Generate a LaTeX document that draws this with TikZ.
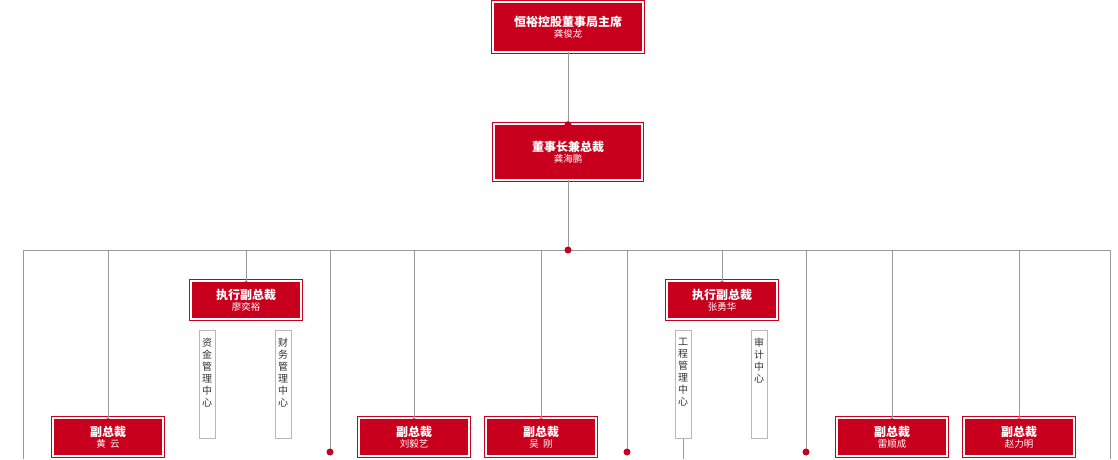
\documentclass[tikz,border=0pt]{standalone}
\usepackage{fontspec}
\setmainfont{Noto Sans CJK SC}
\usetikzlibrary{positioning}
\definecolor{hred}{HTML}{C8001E}
\definecolor{hline}{HTML}{9A9A9A}

\begin{document}
\begin{tikzpicture}[x=1pt,y=-1pt,
        redbox/.style = {rectangle, draw=hred, double=white, double distance=2pt, line width=0.6pt, fill=hred, text=white, align=center, inner sep=1pt},
        vpbox/.style = {redbox, minimum width=110pt, minimum height=38pt},
        deptbox/.style = {rectangle, draw=hline!70, fill=white, line width=0.6pt, anchor=north, inner sep=2pt, font=\fontsize{10}{12}\selectfont, text=black!80},
        line/.style = {draw=hline, line width=0.9pt},
        dot/.style = {circle, fill=hred, inner sep=0pt, minimum size=7pt}
    ]
        \useasboundingbox (0,0) rectangle (1118,459);
        \newcommand{\ttl}[2]{{\fontsize{12}{14}\selectfont\bfseries #1}\\[-1pt]{\fontsize{9.5}{11}\selectfont #2}}
        \newcommand{\dpt}[1]{\parbox[t][104pt][t]{1.2em}{\centering\vspace{6pt}#1}}

        % Top nodes
        \node [redbox, minimum width=150pt, minimum height=50pt] (chair) at (568,27) {\ttl{恒裕控股董事局主席}{龚俊龙}};
        \node [redbox, minimum width=148pt, minimum height=56pt] (ceo) at (568,152) {\ttl{董事长兼总裁}{龚海鹏}};

        % Executive vice presidents
        \node [vpbox] (evpa) at (246,300) {\ttl{执行副总裁}{廖奕裕}};
        \node [vpbox] (evpb) at (722,300) {\ttl{执行副总裁}{张勇华}};

        % Vice presidents
        \node [vpbox] (vpa) at (108,437) {\ttl{副总裁}{黄\ \ 云}};
        \node [vpbox] (vpb) at (414,437) {\ttl{副总裁}{刘毅艺}};
        \node [vpbox] (vpc) at (541,437) {\ttl{副总裁}{吴\ \ 刚}};
        \node [vpbox] (vpd) at (892,437) {\ttl{副总裁}{雷顺成}};
        \node [vpbox] (vpe) at (1019,437) {\ttl{副总裁}{赵力明}};

        % Centres
        \node [deptbox] (fund) at (207,330) {\dpt{资\\金\\管\\理\\中\\心}};
        \node [deptbox] (fin) at (283,330) {\dpt{财\\务\\管\\理\\中\\心}};
        \node [deptbox] (eng) at (683,330) {\dpt{工\\程\\管\\理\\中\\心}};
        \node [deptbox] (audit) at (759,330) {\dpt{审\\计\\中\\心}};

        % Bus
        \coordinate (hub) at (568,250);
        \coordinate (busl) at (23,250);
        \coordinate (busr) at (1110,250);
        \coordinate (endl) at (23,459);
        \coordinate (endr) at (1110,459);
        \coordinate (dropa) at (330,452);
        \coordinate (dropb) at (627,452);
        \coordinate (dropc) at (806,452);
        \coordinate (engend) at (683,459);

        % Lines
        \draw [line] (chair) -- (ceo);
        \draw [line] (ceo) -- (hub);
        \draw [line] (endl) -- (busl) -- (busr) -- (endr);
        \foreach \n in {evpa,evpb,vpa,vpb,vpc,vpd,vpe}
            \draw [line] (\n.north |- hub) -- (\n.north);
        \foreach \c in {dropa,dropb,dropc}
            \draw [line] (\c |- hub) -- (\c);
        \draw [line] (eng) -- (engend);

        % Dots
        \node [dot] at ([yshift=-1pt]ceo.north) {};
        \node [dot] at (hub) {};
        \foreach \n in {evpa,evpb,vpa,vpb,vpc,vpd,vpe}
            \node [dot] at ([yshift=-4pt]\n.north) {};
        \foreach \c in {dropa,dropb,dropc}
            \node [dot] at (\c) {};
\end{tikzpicture}
\end{document}
